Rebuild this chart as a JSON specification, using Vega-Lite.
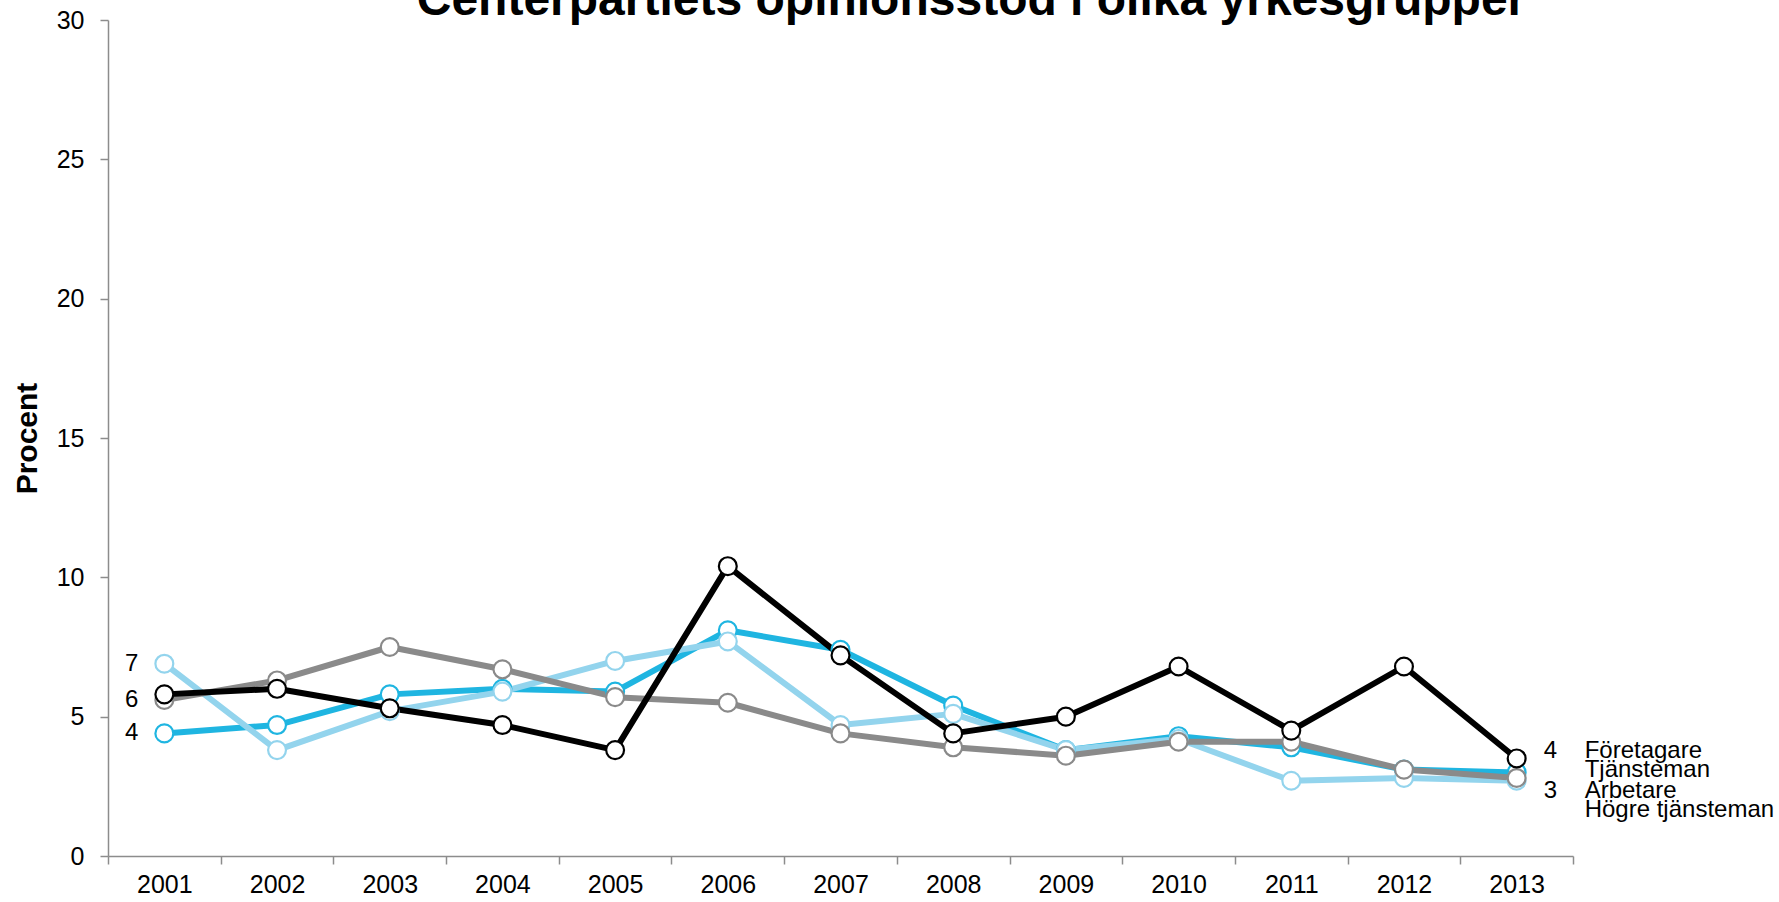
{
  "$schema": "https://vega.github.io/schema/vega-lite/v6.json",
  "autosize": "none",
  "width": 1465,
  "height": 836,
  "padding": {"left": 108, "top": 20, "right": 206, "bottom": 46},
  "background": "white",
  "config": {
    "font": "Liberation Sans",
    "view": {"stroke": null},
    "axis": {"domainColor": "#8c8c8c", "tickColor": "#8c8c8c", "domainWidth": 1.5, "tickWidth": 1.5, "grid": false, "labelFont": "Liberation Sans", "labelFontSize": 25, "labelColor": "#000000", "tickSize": 8}
  },
  "title": {"text": "Centerpartiets opinionsstöd i olika yrkesgrupper", "fontSize": 48, "fontWeight": "bold", "font": "Liberation Sans", "color": "#000000", "anchor": "middle", "offset": -17, "dx": 131},
  "data": {"values": [
    {"series": "Tjänsteman", "year": "2001", "value": 4.4},
    {"series": "Tjänsteman", "year": "2002", "value": 4.7},
    {"series": "Tjänsteman", "year": "2003", "value": 5.8},
    {"series": "Tjänsteman", "year": "2004", "value": 6.0},
    {"series": "Tjänsteman", "year": "2005", "value": 5.9},
    {"series": "Tjänsteman", "year": "2006", "value": 8.1},
    {"series": "Tjänsteman", "year": "2007", "value": 7.4},
    {"series": "Tjänsteman", "year": "2008", "value": 5.4},
    {"series": "Tjänsteman", "year": "2009", "value": 3.8},
    {"series": "Tjänsteman", "year": "2010", "value": 4.3},
    {"series": "Tjänsteman", "year": "2011", "value": 3.9},
    {"series": "Tjänsteman", "year": "2012", "value": 3.1},
    {"series": "Tjänsteman", "year": "2013", "value": 3.0},
    {"series": "Högre tjänsteman", "year": "2001", "value": 6.9},
    {"series": "Högre tjänsteman", "year": "2002", "value": 3.8},
    {"series": "Högre tjänsteman", "year": "2003", "value": 5.2},
    {"series": "Högre tjänsteman", "year": "2004", "value": 5.9},
    {"series": "Högre tjänsteman", "year": "2005", "value": 7.0},
    {"series": "Högre tjänsteman", "year": "2006", "value": 7.7},
    {"series": "Högre tjänsteman", "year": "2007", "value": 4.7},
    {"series": "Högre tjänsteman", "year": "2008", "value": 5.1},
    {"series": "Högre tjänsteman", "year": "2009", "value": 3.8},
    {"series": "Högre tjänsteman", "year": "2010", "value": 4.2},
    {"series": "Högre tjänsteman", "year": "2011", "value": 2.7},
    {"series": "Högre tjänsteman", "year": "2012", "value": 2.8},
    {"series": "Högre tjänsteman", "year": "2013", "value": 2.7},
    {"series": "Arbetare", "year": "2001", "value": 5.6},
    {"series": "Arbetare", "year": "2002", "value": 6.3},
    {"series": "Arbetare", "year": "2003", "value": 7.5},
    {"series": "Arbetare", "year": "2004", "value": 6.7},
    {"series": "Arbetare", "year": "2005", "value": 5.7},
    {"series": "Arbetare", "year": "2006", "value": 5.5},
    {"series": "Arbetare", "year": "2007", "value": 4.4},
    {"series": "Arbetare", "year": "2008", "value": 3.9},
    {"series": "Arbetare", "year": "2009", "value": 3.6},
    {"series": "Arbetare", "year": "2010", "value": 4.1},
    {"series": "Arbetare", "year": "2011", "value": 4.1},
    {"series": "Arbetare", "year": "2012", "value": 3.1},
    {"series": "Arbetare", "year": "2013", "value": 2.8},
    {"series": "Företagare", "year": "2001", "value": 5.8},
    {"series": "Företagare", "year": "2002", "value": 6.0},
    {"series": "Företagare", "year": "2003", "value": 5.3},
    {"series": "Företagare", "year": "2004", "value": 4.7},
    {"series": "Företagare", "year": "2005", "value": 3.8},
    {"series": "Företagare", "year": "2006", "value": 10.4},
    {"series": "Företagare", "year": "2007", "value": 7.2},
    {"series": "Företagare", "year": "2008", "value": 4.4},
    {"series": "Företagare", "year": "2009", "value": 5.0},
    {"series": "Företagare", "year": "2010", "value": 6.8},
    {"series": "Företagare", "year": "2011", "value": 4.5},
    {"series": "Företagare", "year": "2012", "value": 6.8},
    {"series": "Företagare", "year": "2013", "value": 3.5}
  ]},
  "encoding": {
    "x": {"field": "year", "type": "ordinal", "scale": {"type": "band", "paddingInner": 0, "paddingOuter": 0}, "axis": {"title": null, "labelAngle": 0, "tickBand": "extent", "labelPadding": 8}},
    "y": {"field": "value", "type": "quantitative", "scale": {"domain": [0, 30], "nice": false, "zero": true}, "axis": {"values": [0, 5, 10, 15, 20, 25, 30], "title": "Procent", "titleFontSize": 30, "titleFontWeight": "bold", "titleFont": "Liberation Sans", "titleColor": "#000000", "labelPadding": 16, "titlePadding": 14}},
    "color": {"field": "series", "type": "nominal", "legend": null, "scale": {"domain": ["Tjänsteman", "Högre tjänsteman", "Arbetare", "Företagare"], "range": ["#1fb5e1", "#93d4ed", "#8a8a8a", "#000000"]}}
  },
  "layer": [
    {"mark": {"type": "line", "strokeWidth": 6, "strokeJoin": "round"}},
    {"mark": {"type": "point", "shape": "circle", "filled": true, "fill": "white", "size": 320, "strokeWidth": 2.2, "opacity": 1},
     "encoding": {"stroke": {"field": "series", "type": "nominal", "legend": null, "scale": {"domain": ["Tjänsteman", "Högre tjänsteman", "Arbetare", "Företagare"], "range": ["#1fb5e1", "#93d4ed", "#8a8a8a", "#000000"]}}}},
    {"transform": [{"filter": "datum.year == '2001' && datum.series != 'Företagare'"}],
     "mark": {"type": "text", "align": "right", "baseline": "middle", "dx": -26, "fontSize": 24, "color": "#000000"},
     "encoding": {"text": {"field": "value", "type": "quantitative", "format": ".0f"}, "color": {"value": "#000000"}}},
    {"transform": [{"filter": "datum.year == '2013' && datum.series == 'Företagare'"}],
     "mark": {"type": "text", "align": "left", "baseline": "middle", "dx": 27, "dy": -7, "fontSize": 24},
     "encoding": {"text": {"field": "value", "type": "quantitative", "format": ".0f"}, "color": {"value": "#000000"}}},
    {"transform": [{"filter": "datum.year == '2013' && datum.series == 'Arbetare'"}],
     "mark": {"type": "text", "align": "left", "baseline": "middle", "dx": 27, "dy": 13, "fontSize": 24},
     "encoding": {"text": {"field": "value", "type": "quantitative", "format": ".0f"}, "color": {"value": "#000000"}}},
    {"transform": [{"filter": "datum.year == '2013' && datum.series == 'Företagare'"}],
     "mark": {"type": "text", "align": "left", "baseline": "middle", "dx": 68, "dy": -7, "fontSize": 24},
     "encoding": {"text": {"field": "series"}, "color": {"value": "#000000"}}},
    {"transform": [{"filter": "datum.year == '2013' && datum.series == 'Tjänsteman'"}],
     "mark": {"type": "text", "align": "left", "baseline": "middle", "dx": 68, "dy": -2, "fontSize": 24},
     "encoding": {"text": {"field": "series"}, "color": {"value": "#000000"}}},
    {"transform": [{"filter": "datum.year == '2013' && datum.series == 'Arbetare'"}],
     "mark": {"type": "text", "align": "left", "baseline": "middle", "dx": 68, "dy": 13, "fontSize": 24},
     "encoding": {"text": {"field": "series"}, "color": {"value": "#000000"}}},
    {"transform": [{"filter": "datum.year == '2013' && datum.series == 'Högre tjänsteman'"}],
     "mark": {"type": "text", "align": "left", "baseline": "middle", "dx": 68, "dy": 29, "fontSize": 24},
     "encoding": {"text": {"field": "series"}, "color": {"value": "#000000"}}}
  ]
}
